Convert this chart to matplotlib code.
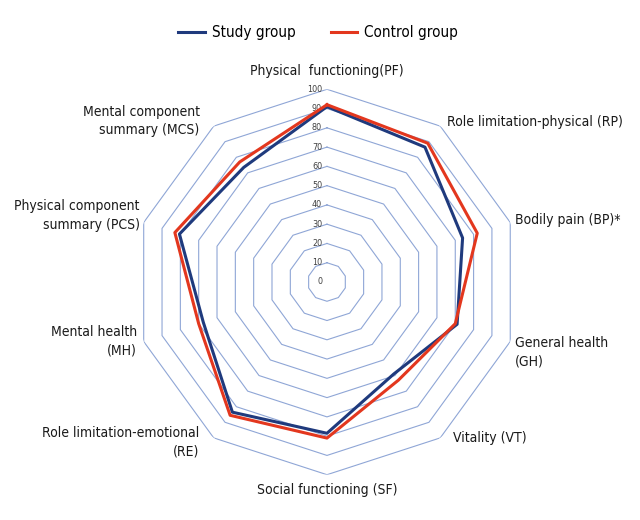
import numpy as np
import matplotlib.pyplot as plt

plt.rcParams['font.family'] = ['DejaVu Sans']
plt.rcParams['font.stretch'] = 'condensed'

categories = ['Physical  functioning(PF)', 'Role limitation-physical (RP)', 'Bodily pain (BP)*',
              'General health\n(GH)', 'Vitality (VT)', 'Social functioning (SF)',
              'Role limitation-emotional\n(RE)', 'Mental health\n(MH)',
              'Physical component\nsummary (PCS)', 'Mental component\nsummary (MCS)']
study = [91, 86.5, 74, 71, 59, 78.5, 83.5, 67.5, 80.5, 73.5]
control = [92, 89, 82, 70, 63, 81, 85.5, 70, 83, 77]
ticks = list(range(0, 101, 10))

# label placement: offset in px from the 100 vertex, ha, va, alignment of lines
label_fmt = [((0, 18), 'center', 'center', 'center'),
             ((7, 4), 'left', 'center', 'left'),
             ((5, 2), 'left', 'center', 'left'),
             ((5, -11), 'left', 'center', 'left'),
             ((13, 0), 'left', 'center', 'left'),
             ((0, -15), 'center', 'center', 'center'),
             ((-14, -4), 'right', 'center', 'right'),
             ((-7, 0), 'right', 'center', 'right'),
             ((-4, 7), 'right', 'center', 'right'),
             ((-14, 5), 'right', 'center', 'right')]

grid_col = '#8fa6d6'
blue = '#1f3a7d'
red = '#e3371e'

n = len(categories)
angles = np.linspace(0, 2 * np.pi, n, endpoint=False)
closed = np.append(angles, angles[0])

fig = plt.figure(figsize=(6.4, 5.2), dpi=100)
ax = fig.add_axes([0.2098, 0.0871, 0.6022, 0.7412], projection='polar')
ax.set_theta_offset(np.pi / 2)
ax.set_theta_direction(-1)
ax.set_ylim(0, 100)
ax.grid(False)
ax.spines['polar'].set_visible(False)
ax.set_xticks([])
ax.set_yticks([])

for t in ticks[1:]:
    ax.plot(closed, [t] * (n + 1), color=grid_col, lw=0.8, zorder=1)
for t in ticks:
    ax.annotate(str(t), xy=(0, t), xytext=(-3.5, 0), textcoords='offset points',
                ha='right', va='center', fontsize=6.5, color='#404040')

l1, = ax.plot(closed, study + study[:1], color=blue, lw=2.2, zorder=3, label='Study group')
l2, = ax.plot(closed, control + control[:1], color=red, lw=2.2, zorder=4, label='Control group')

for a, lab, (off, ha, va, ma) in zip(angles, categories, label_fmt):
    ax.annotate(lab, xy=(a, 100), xytext=(off[0] * 0.72, off[1] * 0.72),
                textcoords='offset points', ha=ha, va=va, multialignment=ma,
                linespacing=1.4, fontsize=10, color='#1a1a1a', annotation_clip=False)

fig.legend(handles=[l1, l2], loc='center', bbox_to_anchor=(0.497, 1 - 33 / 520), ncol=2,
           frameon=False, fontsize=11, handlelength=1.75, handletextpad=0.45,
           columnspacing=2.3)

fig.savefig('out.png', dpi=100)
